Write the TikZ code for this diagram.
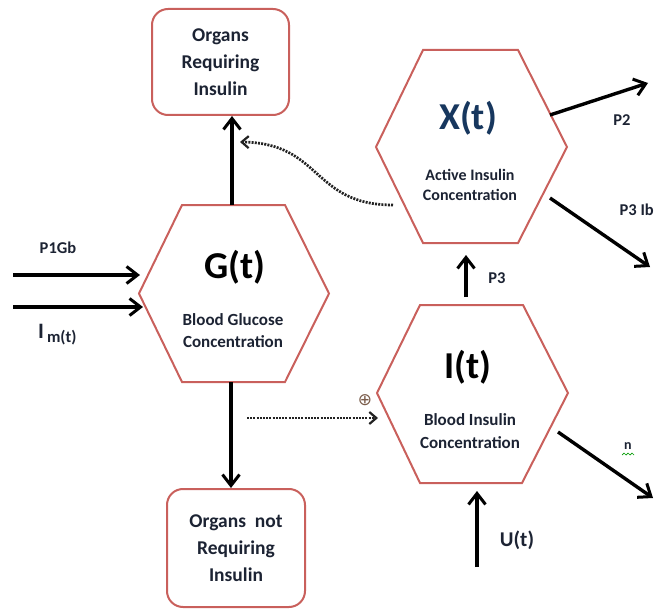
\documentclass[tikz,border=0pt]{standalone}
\usepackage{fontspec}
\setmainfont{Carlito}
\newfontfamily\symfont{DejaVu Sans}
\usetikzlibrary{arrows.meta}
\definecolor{hexred}{HTML}{C9605C}
\definecolor{txt}{HTML}{1C2333}
\definecolor{navy}{HTML}{17375E}
\definecolor{dotc}{HTML}{222222}
\definecolor{opc}{HTML}{7A5C4A}
\tikzset{
  hexa/.style={draw=hexred, line width=2pt, line join=miter},
  organ/.style={draw=hexred, line width=2pt, rounded corners=16pt, align=center,
    font=\bfseries\fontsize{19.5}{27}\selectfont, text=txt, inner sep=0pt},
  flow/.style={line width=3.4pt, -{Straight Barb[length=11pt,width=17pt,line width=3pt]}},
  dots/.style={line width=2.7pt, draw=dotc, dash pattern=on 2pt off 1.2pt,
    -{Straight Barb[length=7pt,width=12pt,line width=2.2pt]}},
  lbl/.style={font=\bfseries\fontsize{16.5}{18}\selectfont, text=txt, inner sep=0pt},
  big/.style={font=\bfseries\fontsize{38}{40}\selectfont, inner sep=0pt},
  sub/.style={font=\bfseries\fontsize{17}{22}\selectfont, text=txt, align=center, inner sep=0pt},
}
\begin{document}
\begin{tikzpicture}[x=1pt,y=-1pt]
\useasboundingbox (0,0) rectangle (654,610);
% organ boxes
\node[organ, minimum width=137pt, minimum height=106pt] (orgA) at (220.5,62) {Organs\\Requiring\\Insulin};
\node[organ, minimum width=138pt, minimum height=118pt] (orgB) at (236,548) {Organs\ \ not\\Requiring\\Insulin};
% hexagon G
\draw[hexa] (139,293.5) -- (182,205) -- (285,205) -- (329,293.5) -- (285,382) -- (182,382) -- cycle;
\coordinate (Gtop) at (232,205);
\coordinate (Gbot) at (231,382);
\coordinate (Gleft) at (139,293.5);
% hexagon X
\draw[hexa] (376,147) -- (423,50) -- (518,50) -- (567,147) -- (518,243) -- (423,243) -- cycle;
\coordinate (Xbot) at (466,243);
\coordinate (Xleft) at (393,205);
\coordinate (Xr1) at (550,115);
\coordinate (Xr2) at (550,198);
% hexagon I
\draw[hexa] (377,393) -- (420,305) -- (523,305) -- (568,393) -- (522,483) -- (420,483) -- cycle;
\coordinate (Itop) at (466,305);
\coordinate (Ibot) at (477,483);
\coordinate (Ileft) at (378,418);
\coordinate (Ir) at (558,432);
% titles
\node[big] (gt) at (235,267) {G(t)};
\node[big, text=navy] (xt) at (468,118) {X(t)};
\node[big] (it) at (468,367) {I(t)};
\node[sub] (gs) at (233,331) {Blood Glucose\\Concentration};
\node[sub, font=\bfseries\fontsize{16}{20.5}\selectfont] (xs) at (470,185) {Active Insulin\\Concentration};
\node[sub, font=\bfseries\fontsize{17}{23}\selectfont] (is) at (470,431) {Blood Insulin\\Concentration};
% free ends
\coordinate (inA) at (13,275);
\coordinate (inAe) at (140,275);
\coordinate (inB) at (13,307);
\coordinate (inBe) at (143,307);
\coordinate (p2e) at (648,83);
\coordinate (p3ibe) at (650,267);
\coordinate (ne) at (653,498);
\coordinate (ut) at (477,567);
\coordinate (p3s) at (466,297);
\coordinate (p3e) at (466,255);
\coordinate (dotS) at (247,418);
\coordinate (curE) at (240,142);
% connectors
\draw[flow] (Gtop) -- (Gtop |- orgA.south);
\draw[flow] (Gbot) -- (Gbot |- orgB.north);
\draw[flow] (inA) -- (inAe);
\draw[flow] (inB) -- (inBe);
\draw[flow] (p3s) -- (p3e);
\draw[flow] (Xr1) -- (p2e);
\draw[flow] (Xr2) -- (p3ibe);
\draw[flow] (Ir) -- (ne);
\draw[flow] (ut) -- (Ibot |- 0,491);
\draw[dots] (dotS) -- (Ileft);
\draw[dots] (Xleft) .. controls (312,205) and (322,143) .. (curE);
% labels
\node[lbl] (l1) at (58,248) {P1Gb};
\node[lbl, anchor=base west] (l2) at (38,338) {{\fontsize{22}{22}\selectfont I}\hspace{3pt}\raisebox{-4pt}{m(t)}};
\node[lbl] (l3) at (497,278) {P3};
\node[lbl] (l4) at (622,120) {P2};
\node[lbl, anchor=east] (l5) at (654,210) {P3 Ib};
\node[lbl, font=\bfseries\fontsize{21}{22}\selectfont] (l6) at (517,540) {U(t)};
\node[lbl, font=\bfseries\fontsize{14}{16}\selectfont] (l7) at (628,446) {n};
\draw[green!60!black, line width=0.7pt] (622,455) -- (624,453) -- (626,455) -- (628,453) -- (630,455) -- (632,453) -- (634,455);
\node[inner sep=0pt, text=opc, font=\symfont\fontsize{17}{17}\selectfont] (op) at (365,400) {⊕};
\end{tikzpicture}
\end{document}
